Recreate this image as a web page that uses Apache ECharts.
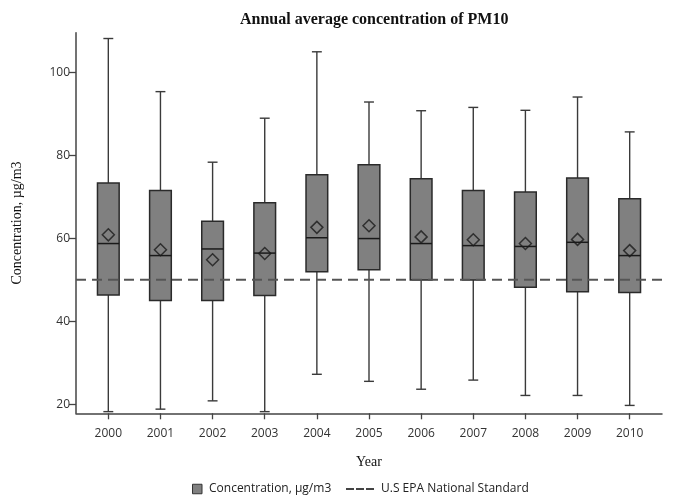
<!DOCTYPE html>
<html><head><meta charset="utf-8">
<script src="https://cdn.jsdelivr.net/npm/echarts@6/dist/echarts.min.js"></script>
<style>html,body{margin:0;padding:0;background:#fff}#c{width:674px;height:502px}</style>
</head><body><div id="c"></div>
<script>
const years = ['2000','2001','2002','2003','2004','2005','2006','2007','2008','2009','2010'];
const whiskerLow  = [18.2, 18.8, 20.8, 18.2, 27.2, 25.5, 23.6, 25.8, 22.1, 22.1, 19.7];
const q1          = [46.3, 45.0, 45.0, 46.2, 51.9, 52.4, 49.9, 49.9, 48.2, 47.1, 46.9];
const medians     = [58.7, 55.8, 57.4, 56.4, 60.1, 59.9, 58.7, 58.2, 58.0, 59.0, 55.8];
const q3          = [73.3, 71.5, 64.1, 68.5, 75.3, 77.7, 74.3, 71.5, 71.1, 74.5, 69.5];
const whiskerHigh = [108.1, 95.3, 78.3, 88.9, 104.9, 92.8, 90.7, 91.5, 90.8, 94.0, 85.6];
const means       = [60.8, 57.2, 54.8, 56.3, 62.6, 63.0, 60.3, 59.6, 58.7, 59.7, 57.0];
const epaStandard = 50;
const yTicks = [20, 40, 60, 80, 100];
const yMin = 17.8, yMax = 109.5;

const boxData = years.map((y, i) => [i, whiskerLow[i], q1[i], medians[i], q3[i], whiskerHigh[i]]);
const meanData = years.map((y, i) => [i, means[i]]);

const chart = echarts.init(document.getElementById('c'));
const gridTop = 32.7, gridBottom = 88.7;
const axisFont = { fontFamily: 'Open Sans', fontSize: 12, color: '#333' };
const legendText = { fontFamily: 'Open Sans', fontSize: 12, color: '#222', padding: [0, 0, 0, 2] };

chart.setOption({
  animation: false,
  backgroundColor: '#fff',
  title: {
    text: 'Annual average concentration of PM10',
    left: 235, top: 7,
    textStyle: { fontFamily: 'Liberation Serif', fontWeight: 'bold', fontSize: 16, color: '#111' }
  },
  legend: [
    {
      left: 187, top: 478, itemWidth: 9.5, itemHeight: 9.5,
      textStyle: legendText,
      data: [{ name: 'Concentration, µg/m3', icon: 'rect', itemStyle: { color: '#808080', borderColor: '#333', borderWidth: 1 } }]
    },
    {
      left: 341, top: 478, itemWidth: 28, itemHeight: 9.5,
      textStyle: legendText,
      data: [{ name: 'U.S EPA National Standard', icon: 'path://M0,0h8v2h-8z M10,0h8v2h-8z M20,0h8v2h-8z', itemStyle: { color: '#444' } }]
    }
  ],
  grid: [
    { left: 82.25, right: 18.25, top: gridTop, bottom: gridBottom },
    { left: 76, right: 12, top: gridTop, bottom: gridBottom }
  ],
  xAxis: [
    {
      type: 'category', gridIndex: 0, data: years, boundaryGap: true,
      axisLine: { show: false },
      axisTick: { show: true, alignWithLabel: true, length: 6, lineStyle: { color: '#444', width: 1.3 } },
      axisLabel: Object.assign({ margin: 14 }, axisFont),
      name: 'Year', nameLocation: 'middle', nameGap: 42,
      nameTextStyle: { fontFamily: 'Liberation Serif', fontSize: 14, color: '#111' }
    },
    {
      type: 'value', gridIndex: 1, min: 0, max: 1,
      axisLine: { show: true, onZero: false, lineStyle: { color: '#444', width: 1.5 } },
      axisTick: { show: false }, axisLabel: { show: false }, splitLine: { show: false }
    }
  ],
  yAxis: [
    { type: 'value', gridIndex: 0, min: yMin, max: yMax, show: false, splitLine: { show: false } },
    {
      type: 'value', gridIndex: 1, min: yMin, max: yMax,
      axisLine: { show: true, lineStyle: { color: '#444', width: 1.5 } },
      axisTick: { show: true, length: 7, customValues: yTicks, lineStyle: { color: '#444', width: 1.3 } },
      axisLabel: Object.assign({ margin: 6, customValues: yTicks }, axisFont),
      splitLine: { show: false },
      name: 'Concentration, µg/m3', nameLocation: 'middle', nameGap: 52, nameRotate: 90,
      nameTextStyle: { fontFamily: 'Liberation Serif', fontSize: 14, color: '#111' }
    }
  ],
  series: [
    {
      name: 'Concentration, µg/m3', type: 'custom', xAxisIndex: 0, yAxisIndex: 0,
      data: boxData,
      encode: { x: 0, y: [1, 2, 3, 4, 5] },
      itemStyle: { color: '#808080' },
      renderItem: function (params, api) {
        const idx = api.value(0);
        const band = api.size([1, 0])[0];
        const halfBox = band * 0.208;
        const halfCap = band * 0.095;
        const pLow = api.coord([idx, api.value(1)]);
        const pQ1 = api.coord([idx, api.value(2)]);
        const pMed = api.coord([idx, api.value(3)]);
        const pQ3 = api.coord([idx, api.value(4)]);
        const pHigh = api.coord([idx, api.value(5)]);
        const x = pMed[0];
        const ws = { stroke: '#3a3a3a', lineWidth: 1.4 };
        return {
          type: 'group',
          children: [
            { type: 'line', shape: { x1: x, y1: pHigh[1], x2: x, y2: pQ3[1] }, style: ws },
            { type: 'line', shape: { x1: x, y1: pQ1[1], x2: x, y2: pLow[1] }, style: ws },
            { type: 'line', shape: { x1: x - halfCap, y1: pHigh[1], x2: x + halfCap, y2: pHigh[1] }, style: ws },
            { type: 'line', shape: { x1: x - halfCap, y1: pLow[1], x2: x + halfCap, y2: pLow[1] }, style: ws },
            { type: 'rect', shape: { x: x - halfBox, y: pQ3[1], width: halfBox * 2, height: pQ1[1] - pQ3[1] },
              style: { fill: '#808080', stroke: '#2a2a2a', lineWidth: 1.5 } },
            { type: 'line', shape: { x1: x - halfBox, y1: pMed[1], x2: x + halfBox, y2: pMed[1] },
              style: { stroke: '#1a1a1a', lineWidth: 1.5 } }
          ]
        };
      },
      z: 3
    },
    {
      name: 'Mean', type: 'scatter', xAxisIndex: 0, yAxisIndex: 0,
      data: meanData, symbol: 'diamond', symbolSize: [12, 12],
      itemStyle: { color: 'rgba(0,0,0,0)', borderColor: '#1a1a1a', borderWidth: 1.5 },
      z: 5, silent: true
    },
    {
      name: 'U.S EPA National Standard', type: 'line', xAxisIndex: 1, yAxisIndex: 1,
      data: [[0, epaStandard], [1, epaStandard]], symbol: 'none',
      lineStyle: { color: '#555', width: 2, type: [10, 6] },
      itemStyle: { color: '#555' },
      z: 4
    }
  ]
});
</script></body></html>
